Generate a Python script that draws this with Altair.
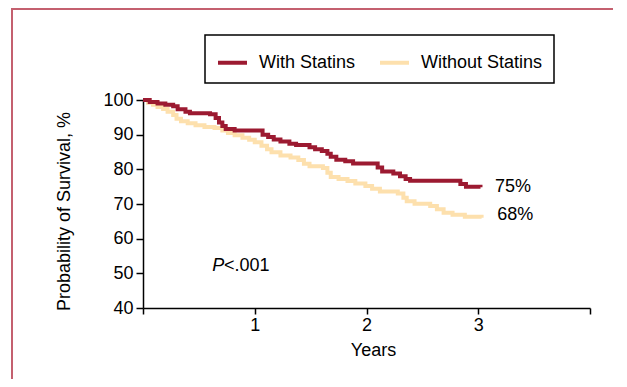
import altair as alt
import pandas as pd

# ---- data ----
series_names = ["With Statins", "Without Statins"]
series_colors = ["#9c1a31", "#fde0ad"]

with_years = [0.0, 0.06, 0.13, 0.20, 0.27, 0.31, 0.38, 0.42, 0.60, 0.65, 0.68, 0.71, 0.74, 0.82,
              1.07, 1.12, 1.17, 1.23, 1.31, 1.37, 1.49, 1.54, 1.60, 1.65, 1.68, 1.73, 1.81, 1.88,
              2.10, 2.14, 2.24, 2.30, 2.35, 2.39, 2.84, 2.89, 3.02]
with_surv = [100, 99.4, 99.0, 98.6, 98.2, 97.3, 96.6, 96.2, 95.9, 94.8, 93.5, 92.5, 91.6, 91.2,
             90.0, 89.3, 88.6, 88.0, 87.4, 87.0, 86.4, 85.8, 85.3, 84.5, 83.6, 82.8, 82.3, 81.7,
             80.5, 79.4, 78.8, 78.0, 77.2, 76.7, 75.8, 75.0, 74.8]

without_years = [0.0, 0.045, 0.09, 0.13, 0.18, 0.22, 0.27, 0.30, 0.34, 0.40, 0.47, 0.55, 0.64, 0.71,
                 0.76, 0.82, 0.89, 0.95, 1.00, 1.06, 1.11, 1.15, 1.23, 1.32, 1.39, 1.44, 1.49, 1.61,
                 1.65, 1.68, 1.75, 1.83, 1.90, 1.99, 2.05, 2.12, 2.28, 2.33, 2.36, 2.43, 2.57, 2.63,
                 2.69, 2.77, 2.88, 3.03]
without_surv = [100, 99.2, 98.6, 98.0, 97.4, 96.6, 95.7, 94.6, 93.9, 93.3, 92.7, 92.2, 91.9, 91.2,
                90.5, 89.8, 89.1, 88.5, 87.8, 86.8, 85.8, 84.9, 84.0, 83.4, 82.7, 81.6, 80.9, 80.4,
                79.0, 77.8, 77.2, 76.6, 75.9, 75.2, 74.4, 73.6, 73.0, 71.8, 70.8, 70.1, 69.4, 68.5,
                67.5, 66.9, 66.3, 66.0]

ann_text = ["75%", "68%", "<.001"]
ann_x = [3.15, 3.17, 0.725]
ann_y = [75.0, 66.8, 52.0]
p_text = ["P"]
p_x = [0.62]
p_y = [52.0]

x_ticks = [0, 1, 2, 3, 4]
y_ticks = [40, 50, 60, 70, 80, 90, 100]

FONT = "Liberation Sans"

df = pd.concat([
    pd.DataFrame({"year": with_years, "surv": with_surv, "series": series_names[0]}),
    pd.DataFrame({"year": without_years, "surv": without_surv, "series": series_names[1]}),
])
ann_df = pd.DataFrame({"text": ann_text, "x": ann_x, "y": ann_y})
p_df = pd.DataFrame({"text": p_text, "x": p_x, "y": p_y})

xscale = alt.Scale(domain=[0, 4], nice=False, zero=False)
yscale = alt.Scale(domain=[40, 100], nice=False, zero=False)

xaxis = alt.Axis(values=x_ticks, format="d",
                 labelExpr="datum.value == 0 || datum.value == 4 ? '' : datum.label",
                 title="Years", titleX=230, titleY=42, titleBaseline="middle", titleAlign="center",
                 tickSize=6, labelPadding=2, grid=False, labelOverlap=False)
yaxis = alt.Axis(values=y_ticks, format="d", title="Probability of Survival, %",
                 titleAngle=270, titleX=-79, titleY=111, titleBaseline="middle", titleAlign="center",
                 tickSize=7, labelPadding=3, grid=False, labelOverlap=False, tickCount=7)

X = alt.X("year:Q", scale=xscale, axis=xaxis)
Y = alt.Y("surv:Q", scale=yscale, axis=yaxis)
XA = alt.X("x:Q", scale=xscale, axis=xaxis)
YA = alt.Y("y:Q", scale=yscale, axis=yaxis)

color = alt.Color("series:N",
                  scale=alt.Scale(domain=series_names, range=series_colors),
                  legend=alt.Legend(title=None, orient="none", legendX=62, legendY=-65,
                                    direction="horizontal", symbolType="stroke",
                                    symbolStrokeWidth=4, symbolSize=841, labelOffset=10,
                                    columnPadding=16, padding=11, strokeColor="black",
                                    fillColor="white", labelFont=FONT, labelFontSize=18,
                                    labelColor="black"))

base = alt.Chart(df)
line_without = base.transform_filter(alt.datum.series == series_names[1]).mark_line(
    interpolate="step-after", strokeWidth=4).encode(x=X, y=Y, color=color)
line_with = base.transform_filter(alt.datum.series == series_names[0]).mark_line(
    interpolate="step-after", strokeWidth=4).encode(x=X, y=Y, color=color)

texts = alt.Chart(ann_df).mark_text(align="left", baseline="middle", font=FONT,
                                     fontSize=18, color="black").encode(
    x=XA, y=YA, text="text:N")
ptext = alt.Chart(p_df).mark_text(align="left", baseline="middle", font=FONT,
                                   fontSize=18, fontStyle="italic", color="black").encode(
    x=XA, y=YA, text="text:N")

one = pd.DataFrame({"k": [0]})
frame_left = alt.Chart(one).mark_rule(stroke="#c4606f", strokeWidth=2).encode(
    x=alt.value(-131), y=alt.value(-92), y2=alt.value(400))
frame_top = alt.Chart(one).mark_rule(stroke="#c4606f", strokeWidth=2).encode(
    x=alt.value(-132), x2=alt.value(470), y=alt.value(-91))

chart = alt.layer(line_without, line_with, texts, ptext, frame_left, frame_top).properties(
    width=447, height=208,
    padding={"left": 135, "top": 92, "right": 29, "bottom": 71},
    autosize=alt.AutoSizeParams(type="none"),
).configure_view(stroke=None).configure_axis(
    labelFont=FONT, labelFontSize=18, labelColor="black",
    titleFont=FONT, titleFontSize=18, titleFontWeight="normal", titleColor="black",
    domainColor="black", domainWidth=1.5, tickColor="black", tickWidth=1.5,
).configure_legend(strokeWidth=1.5)

chart.save("out.html", embed_options={"renderer": "svg", "actions": False})
